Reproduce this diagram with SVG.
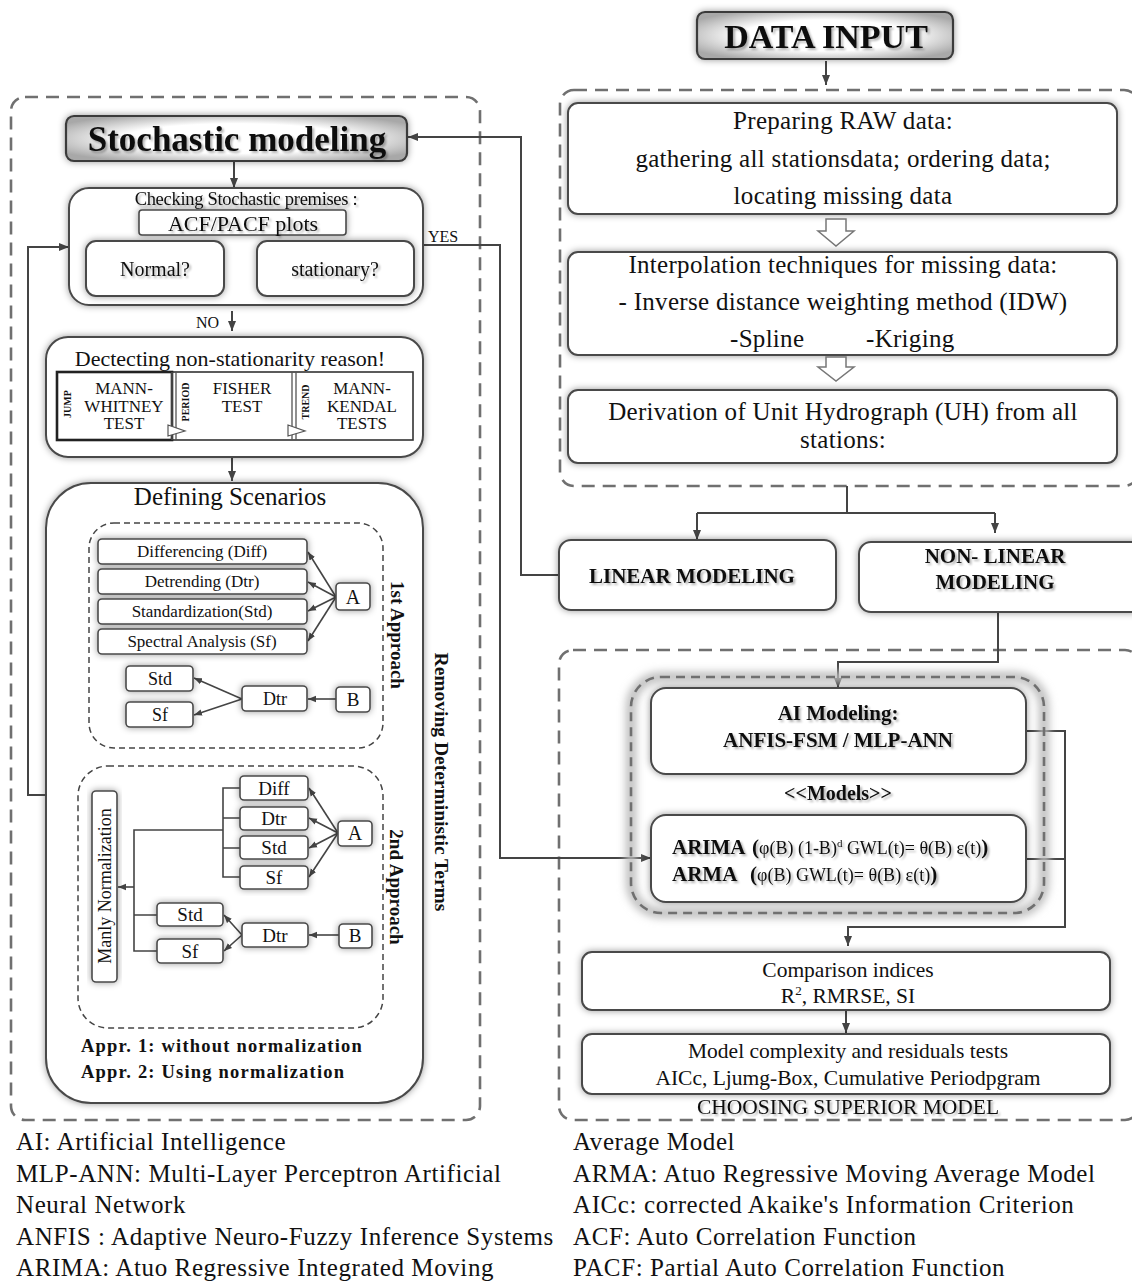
<svg xmlns="http://www.w3.org/2000/svg" width="1132" height="1281" viewBox="0 0 1132 1281">
<defs>
<style>
text{font-family:"Liberation Serif","Times New Roman",serif;fill:#111}
.b{fill:#fff;stroke:#4a4a4a;stroke-width:2}
.bt{fill:#fff;stroke:#4a4a4a;stroke-width:1.6}
.d{fill:none;stroke:#707070;stroke-width:2.6;stroke-dasharray:13 8}
.d2{fill:none;stroke:#444;stroke-width:1.5;stroke-dasharray:6 4}
.c{fill:none;stroke:#444;stroke-width:2}
.c1{fill:none;stroke:#444;stroke-width:1.6}
.m{text-anchor:middle}
.bo{font-weight:bold}
.hl{fill:#fff;stroke:#777;stroke-width:1.5}
</style>
<filter id="g" x="-20%" y="-30%" width="140%" height="160%">
<feGaussianBlur in="SourceAlpha" stdDeviation="3.5" result="b"/>
<feFlood flood-color="#000" flood-opacity="0.4"/>
<feComposite in2="b" operator="in"/>
<feMerge><feMergeNode/><feMergeNode in="SourceGraphic"/></feMerge>
</filter>
<filter id="ts" x="-5%" y="-20%" width="110%" height="150%">
<feGaussianBlur in="SourceAlpha" stdDeviation="1.2" result="b"/>
<feOffset dx="1.5" dy="1.5"/>
<feComponentTransfer><feFuncA type="linear" slope="0.3"/></feComponentTransfer>
<feMerge><feMergeNode/><feMergeNode in="SourceGraphic"/></feMerge>
</filter>
<filter id="bl" x="-10%" y="-10%" width="120%" height="120%"><feGaussianBlur stdDeviation="4"/></filter>
<radialGradient id="rg" cx="0.5" cy="0.5" r="0.6">
<stop offset="0.55" stop-color="#fff"/><stop offset="1" stop-color="#a8a8a8"/>
</radialGradient>
<marker id="ah" viewBox="0 0 10 10" refX="10" refY="5" markerWidth="10" markerHeight="10" markerUnits="userSpaceOnUse" orient="auto"><path d="M0,1 L10,5 L0,9 z" fill="#444"/></marker>
<marker id="as" viewBox="0 0 10 10" refX="10" refY="5" markerWidth="8" markerHeight="8" markerUnits="userSpaceOnUse" orient="auto"><path d="M0,1 L10,5 L0,9 z" fill="#444"/></marker>
</defs>
<rect width="1132" height="1281" fill="#fff"/>

<!-- dashed containers -->
<g id="containers">
<rect class="d" x="11" y="97" width="469" height="1023" rx="14"/>
<rect class="d" x="560" y="90" width="578" height="396" rx="14"/>
<rect class="d" x="559" y="650" width="580" height="470" rx="14"/>
</g>

<g id="defining">
<rect class="b" x="46" y="483" width="377" height="620" rx="45" filter="url(#g)"/>
<text class="m" x="230" y="505" font-size="25">Defining Scenarios</text>
<text class="m bo" transform="translate(441,782) rotate(90)" y="6.5" font-size="19.5">Removing Deterministic Terms</text>
<text x="81" y="1052" font-size="18.5" class="bo" letter-spacing="1.2">Appr.  1: without normalization</text>
<text x="81" y="1078" font-size="18.5" class="bo" letter-spacing="1.2">Appr.  2: Using normalization</text>
</g>
<g id="approach1">
<rect class="d2" x="89" y="523" width="294" height="225" rx="25"/>
<text class="m bo" transform="translate(397,635) rotate(90)" y="6.5" font-size="19">1st Approach</text>
</g>
<g id="approach2">
<rect class="d2" x="78" y="766" width="305" height="262" rx="30"/>
<text class="m bo" transform="translate(396,887) rotate(90)" y="6.5" font-size="19">2nd Approach</text>
</g>

<!-- connectors -->
<g id="connectors">
<path class="c" d="M826,61 V85" marker-end="url(#ah)"/>
<path class="c" d="M847,486 V513 M697,513 H995"/>
<path class="c" d="M697,513 V540" marker-end="url(#ah)"/>
<path class="c" d="M995,513 V533" marker-end="url(#ah)"/>
<path class="c" d="M998,612 V662 H838 V688" marker-end="url(#ah)"/>
<path class="c" d="M1026,731 H1065 V927 H848 V946" marker-end="url(#ah)"/>
<path class="c" d="M1026,859 H1065"/>
<path class="c" d="M846,1010 V1033" marker-end="url(#ah)"/>
<path class="c" d="M423,245 H500 V858 H651" marker-end="url(#ah)"/>
<path class="c" d="M559,575 H521 V137 H408" marker-end="url(#ah)"/>
<path class="c" d="M234,162 V188" marker-end="url(#ah)"/>
<path class="c" d="M47,795 H28 V247 H69" marker-end="url(#ah)"/>
<path class="c" d="M232,311 V331" marker-end="url(#ah)"/>
<path class="c" d="M232,457 V481" marker-end="url(#ah)"/>
<!-- 1st approach -->
<path class="c1" d="M336,597 L308,552" marker-end="url(#as)"/>
<path class="c1" d="M336,597 L308,582" marker-end="url(#as)"/>
<path class="c1" d="M336,597 L308,611" marker-end="url(#as)"/>
<path class="c1" d="M336,597 L308,641" marker-end="url(#as)"/>
<path class="c1" d="M336,699 H308" marker-end="url(#as)"/>
<path class="c1" d="M242,699 L194,678" marker-end="url(#as)"/>
<path class="c1" d="M242,699 L194,715" marker-end="url(#as)"/>
<!-- 2nd approach -->
<path class="c1" d="M338,833 L309,788" marker-end="url(#as)"/>
<path class="c1" d="M338,833 L309,818" marker-end="url(#as)"/>
<path class="c1" d="M338,833 L309,848" marker-end="url(#as)"/>
<path class="c1" d="M338,833 L309,877" marker-end="url(#as)"/>
<path class="c1" d="M339,935 H309" marker-end="url(#as)"/>
<path class="c1" d="M242,935 L224,915" marker-end="url(#as)"/>
<path class="c1" d="M242,935 L224,951" marker-end="url(#as)"/>
<path class="c1" d="M240,788 H223 V877 H240 M223,818 H240 M223,848 H240 M223,830 H134 V951 H157 M134,915 H157"/>
<path class="c1" d="M134,887 H118" marker-end="url(#as)"/>
</g>

<!-- right column -->
<g id="data-input">
<rect x="697" y="12" width="256" height="47" rx="8" fill="url(#rg)" stroke="#3a3a3a" stroke-width="2.2" filter="url(#g)"/>
<text class="m bo" x="826" y="48" font-size="34" filter="url(#ts)">DATA INPUT</text>
</g>
<g id="prepare">
<rect class="b" x="568" y="103" width="549" height="111" rx="10" filter="url(#g)"/>
<g font-size="25" letter-spacing="0.3">
<text class="m" x="843" y="129">Preparing RAW data:</text>
<text class="m" x="843" y="167">gathering all stationsdata; ordering data;</text>
<text class="m" x="843" y="204">locating missing data</text>
</g>
</g>
<polygon class="hl" points="826,219 846,219 846,231 854,231 836,246 818,231 826,231"/>
<g id="interp">
<rect class="b" x="568" y="252" width="549" height="103" rx="10" filter="url(#g)"/>
<g font-size="25" letter-spacing="0.3">
<text class="m" x="843" y="273">Interpolation techniques for missing data:</text>
<text class="m" x="843" y="310">- Inverse distance weighting method (IDW)</text>
<text x="730" y="347">-Spline</text>
<text x="866" y="347">-Kriging</text>
</g>
</g>
<polygon class="hl" points="826,357 846,357 846,367 854,367 836,381 818,367 826,367"/>
<g id="derivation">
<rect class="b" x="568" y="390" width="549" height="73" rx="10" filter="url(#g)"/>
<g font-size="25" letter-spacing="0.3">
<text class="m" x="843" y="420">Derivation of Unit Hydrograph (UH) from all</text>
<text class="m" x="843" y="448">stations:</text>
</g>
</g>
<g id="linear">
<rect class="b" x="559" y="540" width="277" height="70" rx="12" filter="url(#g)"/>
<text class="m bo" x="692" y="583" font-size="21" filter="url(#ts)">LINEAR MODELING</text>
</g>
<g id="nonlinear">
<rect class="b" x="859" y="542" width="290" height="70" rx="12" filter="url(#g)"/>
<text class="m bo" x="995" y="563" font-size="21" filter="url(#ts)">NON- LINEAR</text>
<text class="m bo" x="995" y="589" font-size="21" filter="url(#ts)">MODELING</text>
</g>
<g id="models">
<rect x="631" y="677" width="413" height="236" rx="30" fill="none" stroke="#bbb" stroke-width="10" filter="url(#bl)"/>
<rect class="d" x="631" y="677" width="413" height="236" rx="30" stroke="#555" stroke-width="2" style="stroke-dasharray:9 6"/>
<text class="m bo" x="838" y="800" font-size="20" filter="url(#ts)">&lt;&lt;Models&gt;&gt;</text>
</g>
<g id="ai-modeling">
<rect class="b" x="651" y="688" width="375" height="86" rx="15" filter="url(#g)"/>
<text class="m bo" x="838" y="720" font-size="21" filter="url(#ts)">AI Modeling:</text>
<text class="m bo" x="838" y="747" font-size="21" filter="url(#ts)">ANFIS-FSM / MLP-ANN</text>
</g>
<g id="arima">
<rect class="b" x="651" y="815" width="375" height="87" rx="15" filter="url(#g)"/>
<text x="672" y="854" font-size="18" filter="url(#ts)"><tspan class="bo" font-size="21">ARIMA</tspan><tspan x="752" class="bo" font-size="21">(</tspan>φ(B) (1-B)<tspan font-size="11" dy="-7">d</tspan><tspan dy="7"> GWL(t)= θ(B) ε(t)</tspan><tspan class="bo" font-size="21">)</tspan></text>
<text x="672" y="881" font-size="18" filter="url(#ts)"><tspan class="bo" font-size="21">ARMA</tspan><tspan x="750" class="bo" font-size="21">(</tspan>φ(B) GWL(t)=  θ(B)  ε(t)<tspan class="bo" font-size="21">)</tspan></text>
</g>
<g id="comparison">
<rect class="b" x="582" y="952" width="528" height="58" rx="10" filter="url(#g)"/>
<text class="m" x="848" y="977" font-size="21.5">Comparison indices</text>
<text class="m" x="848" y="1003" font-size="21.5">R<tspan font-size="13" dy="-8">2</tspan><tspan dy="8">, RMRSE, SI</tspan></text>
</g>
<g id="complexity">
<rect class="b" x="582" y="1034" width="528" height="60" rx="10" filter="url(#g)"/>
<text class="m" x="848" y="1058" font-size="21.5">Model complexity and residuals tests</text>
<text class="m" x="848" y="1085" font-size="21.5">AICc, Ljumg-Box, Cumulative Periodpgram</text>
</g>
<text id="choosing" class="m" x="848" y="1114" font-size="21.5" filter="url(#ts)">CHOOSING SUPERIOR MODEL</text>

<!-- left column -->
<g id="stochastic">
<rect x="66" y="116" width="341" height="45" rx="8" fill="url(#rg)" stroke="#3a3a3a" stroke-width="2.2" filter="url(#g)"/>
<text class="m bo" x="237" y="151" font-size="35" filter="url(#ts)">Stochastic modeling</text>
</g>
<g id="checking">
<rect class="b" x="69" y="188" width="354" height="117" rx="20" filter="url(#g)"/>
<text class="m" x="246" y="205" font-size="18.5" letter-spacing="-0.3" filter="url(#ts)">Checking  Stochastic premises :</text>
<rect class="bt" x="139" y="210" width="207" height="25" rx="3" filter="url(#g)"/>
<text class="m" x="243" y="231" font-size="22" filter="url(#ts)">ACF/PACF plots</text>
<rect class="b" x="86" y="241" width="138" height="55" rx="10" filter="url(#g)"/>
<text class="m" x="155" y="276" font-size="20" filter="url(#ts)">Normal?</text>
<rect class="b" x="257" y="241" width="157" height="55" rx="10" filter="url(#g)"/>
<text class="m" x="335" y="276" font-size="20" filter="url(#ts)">stationary?</text>
</g>
<text x="428" y="242" font-size="16">YES</text>
<text x="196" y="328" font-size="16">NO</text>
<g id="detecting">
<rect class="b" x="46" y="337" width="377" height="120" rx="22" filter="url(#g)"/>
<text class="m" x="230" y="366" font-size="22">Dectecting non-stationarity reason!</text>
<rect x="57" y="372" width="356" height="68" fill="#fff" stroke="#333" stroke-width="1.6"/>
<rect x="57" y="372" width="115" height="68" fill="none" stroke="#222" stroke-width="2.6"/>
<path d="M172,372 V440 M176,372 V440 M292,372 V440 M296,372 V440" stroke="#555" stroke-width="1.3" fill="none"/>
<polygon points="168,425 185,431 168,436" fill="#fff" stroke="#555" stroke-width="1.2"/>
<polygon points="288,425 305,431 288,436" fill="#fff" stroke="#555" stroke-width="1.2"/>
<g font-size="10" class="bo">
<text class="m" transform="translate(67,404) rotate(-90)" y="3.5">JUMP</text>
<text class="m" transform="translate(185,402) rotate(-90)" y="3.5">PERIOD</text>
<text class="m" transform="translate(305,402) rotate(-90)" y="3.5">TREND</text>
</g>
<g font-size="17">
<text class="m" x="124" y="394">MANN-</text>
<text class="m" x="124" y="411.5">WHITNEY</text>
<text class="m" x="124" y="429">TEST</text>
<text class="m" x="242" y="394">FISHER</text>
<text class="m" x="242" y="411.5">TEST</text>
<text class="m" x="362" y="394">MANN-</text>
<text class="m" x="362" y="411.5">KENDAL</text>
<text class="m" x="362" y="429">TESTS</text>
</g>
</g>
<g id="diff1"><rect class="bt" x="98" y="539" width="209" height="25" rx="4" filter="url(#g)"/><text class="m" x="202" y="557" font-size="17">Differencing (Diff)</text></g>
<g id="dtr1"><rect class="bt" x="98" y="569" width="209" height="25" rx="4" filter="url(#g)"/><text class="m" x="202" y="587" font-size="17">Detrending (Dtr)</text></g>
<g id="std1"><rect class="bt" x="98" y="599" width="209" height="25" rx="4" filter="url(#g)"/><text class="m" x="202" y="617" font-size="17">Standardization(Std)</text></g>
<g id="sf1"><rect class="bt" x="98" y="629" width="209" height="25" rx="4" filter="url(#g)"/><text class="m" x="202" y="647" font-size="17">Spectral Analysis (Sf)</text></g>
<g id="a1"><rect class="bt" x="336" y="583" width="34" height="27" rx="4" filter="url(#g)"/><text class="m" x="353" y="604" font-size="20">A</text></g>
<g id="std1b"><rect class="bt" x="126" y="666" width="67" height="25" rx="4" filter="url(#g)"/><text class="m" x="160" y="685" font-size="18">Std</text></g>
<g id="sf1b"><rect class="bt" x="126" y="702" width="67" height="25" rx="4" filter="url(#g)"/><text class="m" x="160" y="721" font-size="18">Sf</text></g>
<g id="dtr1b"><rect class="bt" x="242" y="686" width="65" height="25" rx="4" filter="url(#g)"/><text class="m" x="275" y="705" font-size="18">Dtr</text></g>
<g id="b1"><rect class="bt" x="336" y="687" width="34" height="25" rx="4" filter="url(#g)"/><text class="m" x="353" y="706" font-size="19">B</text></g>

<g id="manly"><rect class="bt" x="92" y="791" width="25" height="191" rx="4" filter="url(#g)"/><text class="m" transform="translate(105,886) rotate(-90)" y="6" font-size="18">Manly Normalization</text></g>
<g id="diff2"><rect class="bt" x="240" y="776" width="68" height="24" rx="4" filter="url(#g)"/><text class="m" x="274" y="795" font-size="19">Diff</text></g>
<g id="dtr2"><rect class="bt" x="240" y="807" width="68" height="23" rx="4" filter="url(#g)"/><text class="m" x="274" y="825" font-size="19">Dtr</text></g>
<g id="std2"><rect class="bt" x="240" y="836" width="68" height="23" rx="4" filter="url(#g)"/><text class="m" x="274" y="854" font-size="19">Std</text></g>
<g id="sf2"><rect class="bt" x="240" y="866" width="68" height="23" rx="4" filter="url(#g)"/><text class="m" x="274" y="884" font-size="19">Sf</text></g>
<g id="a2"><rect class="bt" x="338" y="821" width="34" height="25" rx="4" filter="url(#g)"/><text class="m" x="355" y="840" font-size="20">A</text></g>
<g id="std2b"><rect class="bt" x="157" y="903" width="66" height="23" rx="4" filter="url(#g)"/><text class="m" x="190" y="921" font-size="19">Std</text></g>
<g id="sf2b"><rect class="bt" x="157" y="939" width="66" height="24" rx="4" filter="url(#g)"/><text class="m" x="190" y="958" font-size="19">Sf</text></g>
<g id="dtr2b"><rect class="bt" x="242" y="923" width="66" height="24" rx="4" filter="url(#g)"/><text class="m" x="275" y="942" font-size="19">Dtr</text></g>
<g id="b2"><rect class="bt" x="339" y="924" width="33" height="24" rx="4" filter="url(#g)"/><text class="m" x="355" y="942" font-size="19">B</text></g>

<!-- legend -->
<g id="legend" font-size="25" letter-spacing="0.6">
<text x="16" y="1150">AI: Artificial  Intelligence</text>
<text x="16" y="1182">MLP-ANN: Multi-Layer Perceptron Artificial</text>
<text x="16" y="1213">Neural Network</text>
<text x="16" y="1245">ANFIS : Adaptive Neuro-Fuzzy Inference Systems</text>
<text x="16" y="1276">ARIMA: Atuo Regressive Integrated Moving</text>
<text x="573" y="1150">Average Model</text>
<text x="573" y="1182">ARMA: Atuo Regressive Moving Average Model</text>
<text x="573" y="1213">AICc: corrected Akaike's Information Criterion</text>
<text x="573" y="1245">ACF: Auto Correlation Function</text>
<text x="573" y="1276">PACF: Partial Auto Correlation Function</text>
</g>
</svg>
